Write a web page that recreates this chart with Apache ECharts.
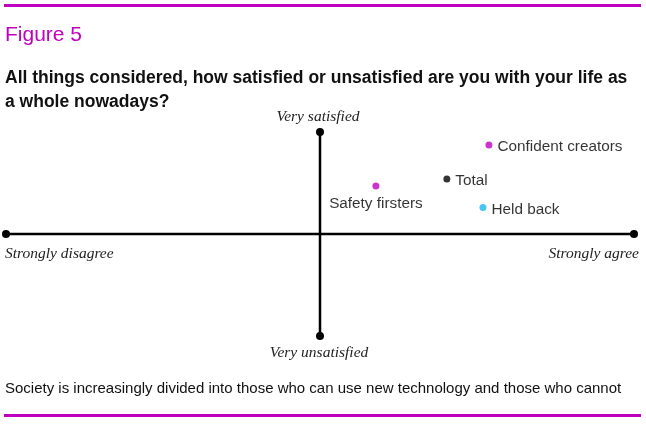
<!DOCTYPE html>
<html>
<head>
<meta charset="utf-8">
<script src="https://cdn.jsdelivr.net/npm/echarts@6/dist/echarts.min.js"></script>
<style>
html,body{margin:0;padding:0;background:#fff;}
#chart{width:646px;height:424px;}
</style>
</head>
<body>
<div id="chart"></div>
<script>
// Data
var groups = ['Confident creators', 'Total', 'Safety firsters', 'Held back'];
var agreement = [0.538, 0.404, 0.178, 0.519];     // x: strongly disagree (-1) .. strongly agree (1)
var satisfaction = [0.873, 0.54, 0.47, 0.26];      // y: very unsatisfied (-1) .. very satisfied (1)
var groupColors = ['#c000c0', '#000000', '#c000c0', '#19b8f0'];
var labelSides = ['right', 'right', 'bottom', 'right'];
var xEnds = [-1, 1];
var yEnds = [-1, 1];
var xEndLabels = ['Strongly disagree', 'Strongly agree'];
var yEndLabels = ['Very unsatisfied', 'Very satisfied'];

var MAG = '#c000c0';
var serifItalic = {fontFamily: 'Liberation Serif, DejaVu Serif, serif', fontStyle: 'italic', fontSize: 15.5, color: '#222'};

var chart = echarts.init(document.getElementById('chart'), null, {renderer: 'canvas'});

var points = groups.map(function (g, i) {
  var side = labelSides[i];
  return {
    name: g,
    value: [agreement[i], satisfaction[i]],
    itemStyle: {color: groupColors[i]},
    label: {
      show: true,
      position: side,
      formatter: g,
      distance: side === 'bottom' ? 7 : 5,
      offset: side === 'bottom' ? [0, 0] : [0, 2],
      color: '#000',
      fontFamily: 'Liberation Sans, Arial, sans-serif',
      fontSize: 15.3
    }
  };
});

var option = {
  animation: false,
  backgroundColor: '#fff',
  grid: {left: 6, width: 628, top: 132, height: 204, containLabel: false},
  xAxis: {type: 'value', min: xEnds[0], max: xEnds[1], show: false},
  yAxis: {type: 'value', min: yEnds[0], max: yEnds[1], show: false},
  series: [
    {
      type: 'line',
      data: [
        {value: [xEnds[0], 0], label: {show: true, position: 'bottom', align: 'left', offset: [-1, 3], formatter: xEndLabels[0]}},
        {value: [xEnds[1], 0], label: {show: true, position: 'bottom', align: 'right', offset: [5, 3], formatter: xEndLabels[1]}}
      ],
      symbol: 'circle', symbolSize: 8,
      lineStyle: {color: '#000', width: 2.5},
      itemStyle: {color: '#000'},
      label: serifItalic,
      z: 2, silent: true
    },
    {
      type: 'line',
      data: [
        {value: [0, yEnds[0]], label: {show: true, position: 'bottom', offset: [-1, 0], formatter: yEndLabels[0]}},
        {value: [0, yEnds[1]], label: {show: true, position: 'top', offset: [-2, 2], formatter: yEndLabels[1]}}
      ],
      symbol: 'circle', symbolSize: 8,
      lineStyle: {color: '#000', width: 2.5},
      itemStyle: {color: '#000'},
      label: serifItalic,
      z: 2, silent: true
    },
    {
      type: 'scatter',
      data: points,
      symbol: 'circle',
      symbolSize: 7,
      z: 5
    }
  ],
  graphic: [
    {type: 'rect', shape: {x: 4, y: 4, width: 637, height: 3}, style: {fill: MAG}},
    {type: 'rect', shape: {x: 4, y: 414, width: 637, height: 3}, style: {fill: MAG}},
    {type: 'text', left: 5, top: 25, style: {text: 'Figure 5', fill: MAG, font: '500 21px "Liberation Sans", Arial, sans-serif'}},
    {type: 'text', left: 5, top: 66, style: {text: 'All things considered, how satisfied or unsatisfied are you with your life as\na whole nowadays?', fill: '#111', lineHeight: 24, font: 'bold 17.5px "Liberation Sans", Arial, sans-serif'}},
    {type: 'text', left: 5, top: 381, style: {text: 'Society is increasingly divided into those who can use new technology and those who cannot', fill: '#111', font: '15px "Liberation Sans", Arial, sans-serif'}}
  ]
};
chart.setOption(option);
</script>
</body>
</html>
